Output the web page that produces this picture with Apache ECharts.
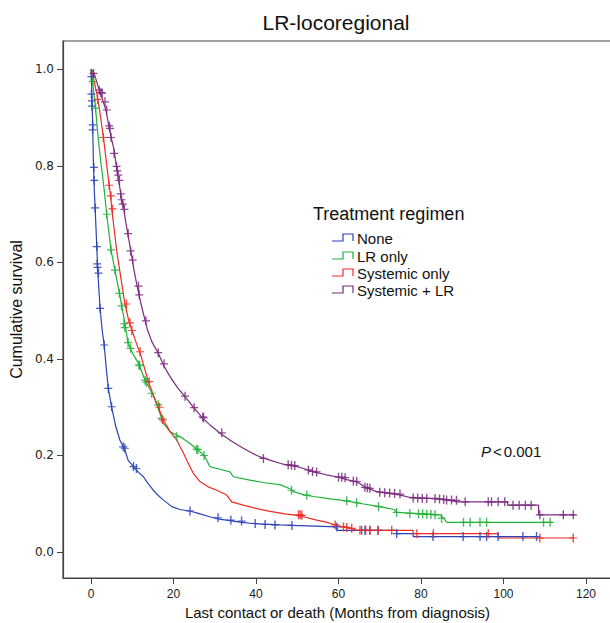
<!DOCTYPE html>
<html>
<head>
<meta charset="utf-8">
<script src="https://cdn.jsdelivr.net/npm/echarts@6/dist/echarts.min.js"></script>
<style>
html,body{margin:0;padding:0;background:#fff;}
#chart{width:610px;height:623px;}
</style>
</head>
<body>
<div id="chart"></div>
<script>
// ---- data ----
const chartTitle = 'LR-locoregional';
const xAxisName = 'Last contact or death (Months from diagnosis)';
const yAxisName = 'Cumulative survival';
const legendTitle = 'Treatment regimen';
const groups = ['None', 'LR only', 'Systemic only', 'Systemic + LR'];
const colors = ['#2b43b8', '#22b03a', '#ee2a24', '#7b2a7f'];
const xTicks = [0, 20, 40, 60, 80, 100, 120];
const yTicks = [0, 0.2, 0.4, 0.6, 0.8, 1.0];
const pText = '0.001';

// survival curves: [months, cumulative survival]
const curveNone = [[0,1.0],[0.1,0.985],[0.2,0.95],[0.3,0.92],[0.4,0.885],[0.6,0.80],[0.8,0.75],[1.0,0.713],[1.4,0.633],[1.6,0.59],[1.9,0.545],[2.2,0.505],[2.7,0.46],[3.2,0.429],[3.7,0.38],[4.2,0.339],[5.0,0.30],[6.0,0.26],[7.0,0.232],[7.8,0.218],[8.2,0.212],[9.0,0.19],[10.3,0.177],[11.5,0.165],[12.7,0.156],[14.0,0.14],[15.1,0.128],[16.3,0.117],[17.5,0.108],[19.6,0.094],[21.5,0.088],[24,0.085],[26,0.08],[28.8,0.073],[31,0.068],[32.9,0.066],[36,0.062],[39.3,0.059],[45.8,0.056],[49,0.055],[59.4,0.052],[59.8,0.045],[74.1,0.045],[74.1,0.038],[78.1,0.038],[78.1,0.032],[108,0.032]];
const curveLR = [[0,1.0],[0.3,0.98],[0.7,0.95],[1.1,0.92],[1.5,0.88],[1.9,0.845],[2.35,0.81],[2.8,0.78],[3.2,0.75],[3.8,0.70],[4.3,0.665],[4.85,0.626],[5.8,0.584],[6.9,0.536],[7.7,0.498],[8.2,0.475],[9.0,0.432],[10.2,0.41],[11.5,0.391],[13.1,0.356],[15.1,0.325],[16.3,0.298],[17.5,0.267],[19.2,0.249],[21.6,0.239],[24.0,0.225],[26.0,0.211],[27.6,0.198],[28.8,0.177],[31,0.172],[33.7,0.166],[34.5,0.156],[38.5,0.149],[41.8,0.144],[46,0.139],[48.5,0.13],[49,0.125],[52,0.118],[54,0.115],[58,0.11],[62,0.106],[65,0.101],[70,0.094],[73.5,0.088],[74.1,0.082],[84.6,0.077],[85.4,0.07],[86.3,0.0615],[111.7,0.0615]];
const curveSys = [[0,1.0],[0.4,0.99],[0.9,0.97],[1.4,0.95],[2.0,0.92],[2.5,0.89],[3.0,0.86],[3.7,0.81],[4.4,0.76],[4.85,0.73],[5.0,0.712],[5.6,0.67],[6.2,0.626],[7.2,0.57],[8.2,0.515],[9.3,0.474],[9.9,0.46],[10.9,0.435],[11.9,0.412],[12.9,0.383],[13.9,0.353],[15.1,0.325],[16.3,0.30],[17.5,0.274],[19.2,0.249],[20.8,0.232],[21.6,0.218],[22.4,0.205],[23.2,0.19],[24.8,0.163],[26.4,0.146],[28.4,0.135],[30.5,0.128],[32.9,0.118],[34.1,0.104],[36.9,0.097],[40.2,0.09],[43.4,0.084],[47,0.079],[49,0.077],[52,0.072],[54.7,0.066],[57,0.062],[59.2,0.056],[61,0.052],[63.2,0.049],[64.4,0.045],[78.1,0.045],[78.1,0.038],[98.7,0.038],[98.7,0.029],[117,0.029]];
const curveSysLR = [[0,1.0],[0.6,0.995],[1.2,0.98],[1.7,0.965],[2.2,0.954],[2.9,0.935],[3.6,0.916],[4.4,0.88],[5.0,0.855],[5.6,0.833],[6.3,0.79],[6.9,0.76],[7.4,0.73],[7.8,0.723],[8.3,0.69],[8.9,0.661],[9.7,0.622],[10.4,0.585],[11.2,0.55],[12.1,0.515],[13.1,0.48],[13.7,0.46],[14.8,0.435],[16.3,0.412],[17.7,0.385],[19.2,0.363],[21,0.34],[22.8,0.322],[24.8,0.30],[26.8,0.28],[29,0.262],[31.3,0.246],[34,0.23],[36.9,0.215],[39,0.205],[41,0.197],[43.5,0.19],[45.8,0.184],[47,0.181],[50,0.177],[51.5,0.173],[53.9,0.166],[57,0.16],[59.6,0.156],[62,0.15],[64.5,0.145],[65.5,0.14],[66.9,0.132],[69.3,0.125],[72,0.122],[75,0.118],[77.4,0.113],[82,0.111],[86,0.108],[89,0.104],[101,0.104],[101,0.097],[108.5,0.097],[108.5,0.077],[117.4,0.077]];

// censored observations: [months, cumulative survival]
const censNone = [[0.1,0.985],[0.1,0.949],[0.2,0.935],[0.2,0.924],[0.4,0.885],[0.4,0.875],[0.7,0.797],[0.8,0.77],[1.0,0.713],[1.4,0.633],[1.5,0.597],[1.6,0.59],[1.8,0.578],[2.2,0.505],[3.2,0.429],[4.2,0.339],[5.0,0.301],[7.8,0.218],[8.2,0.215],[10.3,0.177],[11.0,0.173],[24,0.085],[30.8,0.071],[33.9,0.066],[36.5,0.064],[39.8,0.059],[42.2,0.057],[44.6,0.056],[48.7,0.055],[59.6,0.052],[65.6,0.045],[66.4,0.045],[67.6,0.045],[69.6,0.045],[74.1,0.038],[82.9,0.032],[90.2,0.032],[94.3,0.032],[95.9,0.032],[98.7,0.032],[104.7,0.032],[108,0.032]];
const censLR = [[0.4,0.975],[1.1,0.92],[3.8,0.70],[4.85,0.626],[5.8,0.584],[6.9,0.536],[7.4,0.51],[8.0,0.473],[8.2,0.465],[9.0,0.434],[9.6,0.422],[11.6,0.388],[11.8,0.386],[13.1,0.356],[13.4,0.352],[14.7,0.329],[16.3,0.305],[17.1,0.277],[20.8,0.239],[25.6,0.213],[25.9,0.212],[27.4,0.2],[48.6,0.128],[52.3,0.118],[62,0.106],[64.4,0.102],[69.7,0.094],[74.1,0.082],[77.3,0.08],[79.4,0.079],[80.4,0.079],[81.4,0.078],[82.4,0.078],[83.4,0.077],[85.0,0.07],[90.3,0.0615],[91.9,0.0615],[94.3,0.0615],[95.9,0.0615],[109.7,0.0615],[111.3,0.0615]];
const censSys = [[1.6,0.938],[3.0,0.859],[4.4,0.76],[4.85,0.738],[5.2,0.711],[8.6,0.514],[9.45,0.475],[9.9,0.459],[11.9,0.415],[14.1,0.353],[16.6,0.30],[17.4,0.274],[50.3,0.077],[50.7,0.077],[51.1,0.076],[59.2,0.056],[61.2,0.052],[62,0.051],[63.2,0.049],[65.2,0.045],[66.6,0.045],[67.6,0.045],[69.6,0.045],[72.9,0.045],[79,0.038],[83,0.038],[96.3,0.038],[108.8,0.029],[116.9,0.029]];
const censSysLR = [[0.6,0.992],[2.0,0.957],[2.4,0.952],[2.7,0.951],[3.4,0.933],[3.8,0.916],[4.4,0.883],[4.6,0.878],[4.85,0.859],[5.6,0.826],[6.2,0.799],[6.4,0.79],[6.6,0.781],[6.9,0.77],[7.2,0.742],[7.4,0.73],[7.7,0.721],[8.1,0.71],[9.0,0.66],[9.6,0.624],[10.1,0.605],[11.5,0.551],[11.7,0.533],[13.3,0.479],[16.3,0.413],[17.7,0.39],[22.8,0.323],[25,0.299],[27.1,0.28],[27.3,0.278],[31.7,0.247],[41.8,0.194],[47.8,0.181],[48.6,0.18],[49.4,0.179],[52.7,0.17],[53.7,0.167],[54.7,0.166],[60,0.155],[60.8,0.155],[61.6,0.154],[63.6,0.147],[64.4,0.146],[66.4,0.134],[67,0.133],[67.6,0.132],[70,0.124],[71.2,0.123],[72.4,0.122],[73.6,0.121],[74.9,0.12],[78.1,0.112],[79.2,0.112],[80.3,0.111],[81.4,0.111],[83.4,0.111],[84.5,0.11],[85.5,0.109],[86.2,0.108],[87.4,0.108],[88.6,0.107],[90.7,0.104],[96.3,0.104],[97.1,0.104],[98.7,0.104],[100.3,0.104],[102.3,0.097],[103.8,0.097],[105.3,0.097],[106.7,0.097],[108.8,0.077],[114.5,0.077],[116.9,0.077]];

const curves = [curveNone, curveLR, curveSys, curveSysLR];
const censors = [censNone, censLR, censSys, censSysLR];

// ---- chart ----
const FONT = 'Liberation Sans, Arial, sans-serif';
const plusPath = 'path://M29,0 L41,0 L41,39 L70,39 L70,51 L41,51 L41,90 L29,90 L29,51 L0,51 L0,39 L29,39 Z';

const series = [];
curves.forEach((c, i) => {
  series.push({
    name: groups[i], type: 'line', data: c, showSymbol: false, symbol: 'none',
    lineStyle: { color: colors[i], width: 1.2 }, itemStyle: { color: colors[i] },
    z: 2 + i, silent: true
  });
});
censors.forEach((c, i) => {
  series.push({
    name: groups[i] + ' censored', type: 'scatter', data: c,
    symbol: plusPath, symbolSize: [8, 9],
    itemStyle: { color: colors[i], opacity: 0.85 },
    z: 6 + i, silent: true
  });
});

const legendRows = [238, 256, 273, 290];
const graphics = [
  { type: 'text', x: 336, y: 22, style: { text: chartTitle, fontSize: 21, fontFamily: FONT, fill: '#111', textAlign: 'center', verticalAlign: 'middle', textVerticalAlign: 'middle' } },
  { type: 'text', x: 313, y: 214, style: { text: legendTitle, fontSize: 18, fontFamily: FONT, fill: '#111', textAlign: 'left', verticalAlign: 'middle', textVerticalAlign: 'middle' } }
];
groups.forEach((g, i) => {
  const yc = legendRows[i];
  graphics.push({ type: 'polyline', shape: { points: [[332, yc + 3], [343, yc + 3], [343, yc - 4], [353, yc - 4], [353, yc + 3]] }, style: { stroke: colors[i], lineWidth: 1.2, fill: null } });
  graphics.push({ type: 'text', x: 357, y: yc, style: { text: g, fontSize: 15, fontFamily: FONT, fill: '#111', textAlign: 'left', verticalAlign: 'middle', textVerticalAlign: 'middle' } });
});
graphics.push({
  type: 'text', x: 481, y: 451,
  style: {
    text: '{i|P}{s|<}{n|' + pText + '}', fontFamily: FONT, fontSize: 15, fill: '#111',
    textAlign: 'left', verticalAlign: 'middle', textVerticalAlign: 'middle',
    rich: {
      i: { fontStyle: 'italic', fontSize: 15, fontFamily: FONT, fill: '#111' },
      s: { fontSize: 15, fontFamily: FONT, fill: '#111', padding: [0, 2, 0, 2] },
      n: { fontSize: 15, fontFamily: FONT, fill: '#111' }
    }
  }
});

const option = {
  animation: false,
  backgroundColor: '#ffffff',
  grid: { left: 63, right: -2, top: 41, bottom: 45, show: true, borderColor: '#444', borderWidth: 1.2, backgroundColor: 'transparent', containLabel: false, outerBoundsMode: 'none' },
  xAxis: {
    type: 'value', min: -6.79, max: 126.3,
    axisLine: { show: true, onZero: false, lineStyle: { color: '#444', width: 1.2 } }, splitLine: { show: false },
    axisTick: { show: true, customValues: xTicks, length: 6, lineStyle: { color: '#444', width: 1 } },
    axisLabel: { customValues: xTicks, fontSize: 12, color: '#222', margin: 10, fontFamily: FONT, showMinLabel: true, showMaxLabel: true },
    name: xAxisName, nameLocation: 'middle', nameGap: 25,
    nameTextStyle: { fontSize: 15, color: '#111', fontFamily: FONT }
  },
  yAxis: {
    type: 'value', min: -0.0539, max: 1.059,
    axisLine: { show: true, onZero: false, lineStyle: { color: '#444', width: 1.2 } }, splitLine: { show: false },
    axisTick: { show: true, customValues: yTicks, length: 6, lineStyle: { color: '#444', width: 1 } },
    axisLabel: { customValues: yTicks, fontSize: 12, color: '#222', margin: 9, fontFamily: 'DejaVu Sans, sans-serif', formatter: v => Number(v).toFixed(1) },
    name: yAxisName, nameLocation: 'middle', nameGap: 34, nameRotate: 90,
    nameTextStyle: { fontSize: 16, color: '#111', fontFamily: FONT }
  },
  series: series,
  graphic: graphics
};

const chart = echarts.init(document.getElementById('chart'), null, { renderer: 'svg' });
chart.setOption(option);
</script>
</body>
</html>
